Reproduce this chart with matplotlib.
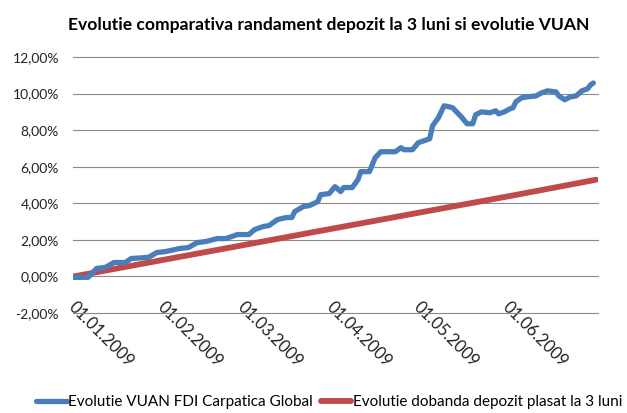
import matplotlib
matplotlib.use("Agg")
import matplotlib.pyplot as plt
import matplotlib.dates as mdates
import matplotlib.transforms as mtransforms
from matplotlib.ticker import FuncFormatter
import pandas as pd

plt.rcParams['font.family'] = ['Lato', 'DejaVu Sans']

# VUAN evolution (%)
vuan_dates = ['2009-01-01', '2009-01-06', '2009-01-09', '2009-01-12', '2009-01-15',
              '2009-01-19', '2009-01-21', '2009-01-27', '2009-01-30', '2009-02-02',
              '2009-02-07', '2009-02-10', '2009-02-13', '2009-02-16', '2009-02-20',
              '2009-02-23', '2009-02-27', '2009-03-03', '2009-03-05', '2009-03-08',
              '2009-03-10', '2009-03-13', '2009-03-16', '2009-03-18', '2009-03-19',
              '2009-03-22', '2009-03-24', '2009-03-27', '2009-03-28', '2009-03-31',
              '2009-04-02', '2009-04-04', '2009-04-05', '2009-04-08', '2009-04-10',
              '2009-04-11', '2009-04-14', '2009-04-16', '2009-04-18', '2009-04-23',
              '2009-04-25', '2009-04-26', '2009-04-29', '2009-05-01', '2009-05-03',
              '2009-05-05', '2009-05-06', '2009-05-08', '2009-05-09', '2009-05-10',
              '2009-05-12', '2009-05-13', '2009-05-16', '2009-05-18', '2009-05-20',
              '2009-05-21', '2009-05-23', '2009-05-26', '2009-05-28', '2009-05-29',
              '2009-05-31', '2009-06-02', '2009-06-03', '2009-06-04', '2009-06-06',
              '2009-06-08', '2009-06-11', '2009-06-13', '2009-06-15', '2009-06-18',
              '2009-06-19', '2009-06-21', '2009-06-23', '2009-06-25', '2009-06-27',
              '2009-06-29', '2009-06-30', '2009-07-01']
vuan_values = [-0.05, -0.05, 0.44, 0.49, 0.76,
               0.76, 0.98, 1.04, 1.31, 1.36,
               1.53, 1.58, 1.85, 1.91, 2.07,
               2.07, 2.29, 2.29, 2.56, 2.73,
               2.78, 3.11, 3.22, 3.22, 3.55,
               3.82, 3.87, 4.09, 4.47, 4.53,
               4.91, 4.64, 4.86, 4.86, 5.29,
               5.73, 5.73, 6.49, 6.82, 6.82,
               7.04, 6.93, 6.93, 7.31, 7.42,
               7.53, 8.24, 8.67, 9.00, 9.33,
               9.27, 9.22, 8.73, 8.35, 8.35,
               8.84, 9.00, 8.95, 9.06, 8.89,
               9.00, 9.17, 9.22, 9.55, 9.77,
               9.82, 9.87, 10.04, 10.15, 10.09,
               9.87, 9.66, 9.82, 9.87, 10.15,
               10.26, 10.47, 10.58]

# 3 month deposit interest (%)
depo_dates = ['2009-01-01', '2009-02-01', '2009-03-01', '2009-04-01',
              '2009-05-01', '2009-06-01', '2009-07-02']
depo_values = [0.0, 0.90, 1.71, 2.61, 3.48, 4.37, 5.29]

tick_dates = ['2009-01-01', '2009-02-01', '2009-03-01', '2009-04-01',
              '2009-05-01', '2009-06-01']
y_ticks = [-2, 0, 2, 4, 6, 8, 10, 12]

vuan_x = pd.to_datetime(vuan_dates)
depo_x = pd.to_datetime(depo_dates)
ticks_x = pd.to_datetime(tick_dates)

fig = plt.figure(figsize=(6.27, 4.13), dpi=100)
ax = fig.add_axes([73/627, 1-313/413, 525/627, 256/413])

ax.plot(vuan_x, vuan_values, color='#4A7EBB', linewidth=3.8, solid_capstyle='round',
        solid_joinstyle='round', label='Evolutie VUAN FDI Carpatica Global', zorder=3)
ax.plot(depo_x, depo_values, color='#BE4B48', linewidth=4.2, solid_capstyle='round',
        label='Evolutie dobanda depozit plasat la 3 luni', zorder=2)

ax.set_ylim(-2, 12)
ax.set_yticks(y_ticks)
ax.yaxis.set_major_formatter(FuncFormatter(lambda v, p: ('%.2f' % v).replace('.', ',') + '%'))
ax.set_xlim(pd.Timestamp('2008-12-31 18:00'), pd.Timestamp('2009-07-02 15:00'))
ax.set_xticks(ticks_x)
ax.xaxis.set_major_formatter(mdates.DateFormatter('%d.%m.%Y'))

ax.grid(axis='y', color='#8A8A8A', linewidth=0.8)
ax.set_axisbelow(True)
for gl in ax.get_ygridlines():
    gl.set_clip_on(False)
for s in ax.spines.values():
    s.set_visible(False)
ax.tick_params(axis='y', length=0, pad=10, labelsize=10, labelcolor='#222222')
ax.tick_params(axis='x', length=0, pad=-10, labelsize=12, labelcolor='#222222')
shift = mtransforms.ScaledTranslation(3/100, 0, fig.dpi_scale_trans)
for lab in ax.get_xticklabels():
    lab.set_rotation(-45)
    lab.set_ha('left')
    lab.set_va('top')
    lab.set_rotation_mode('anchor')
    lab.set_transform(lab.get_transform() + shift)

fig.text(0.525, 0.94, 'Evolutie comparativa randament depozit la 3 luni si evolutie VUAN',
         ha='center', va='center', fontsize=12.6, fontweight='bold')

fig.legend(loc='center', bbox_to_anchor=(329/627, 11/413), ncol=2, frameon=False,
           fontsize=11, handlelength=2.0, handletextpad=0.1, columnspacing=0.5)

fig.savefig('out.png', dpi=100)
